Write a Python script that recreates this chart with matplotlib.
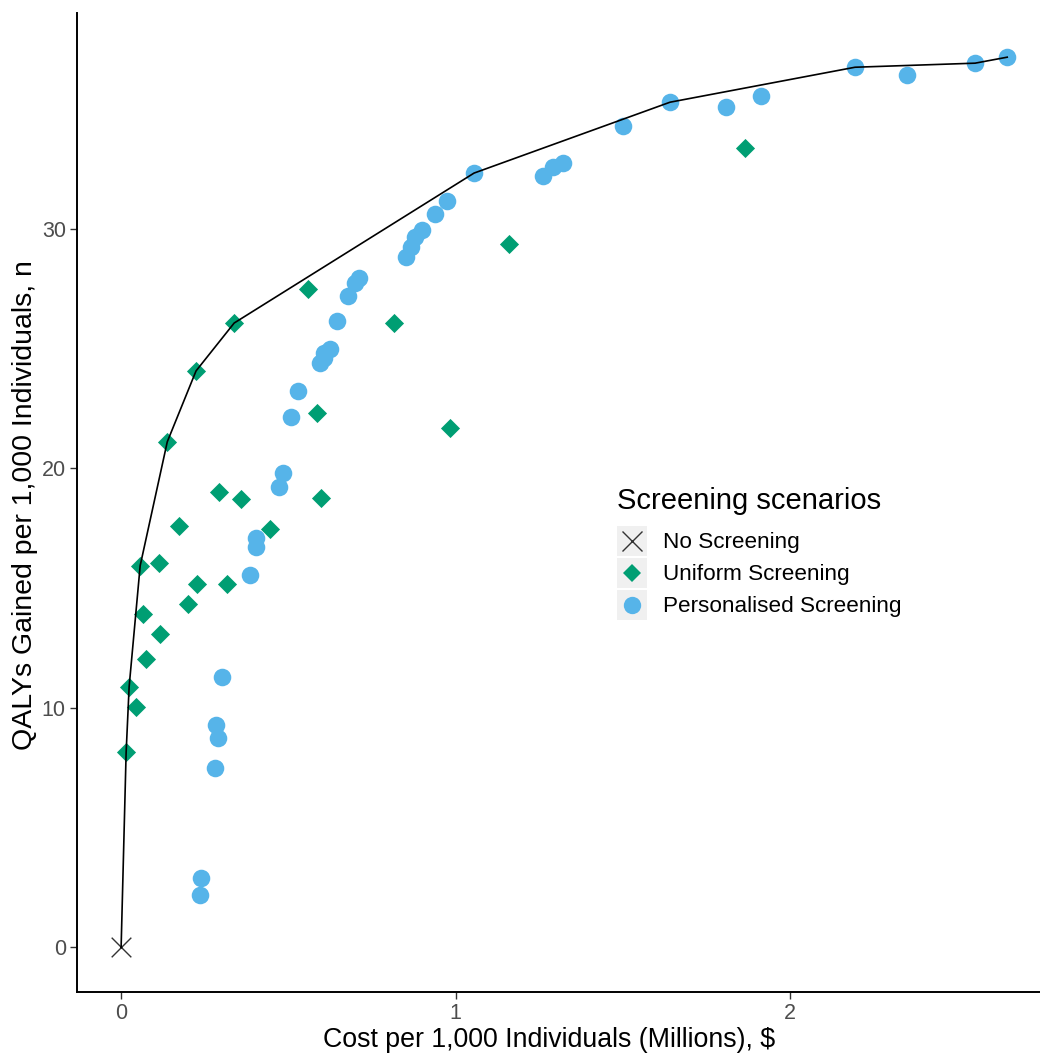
import matplotlib
matplotlib.use("Agg")
import matplotlib.pyplot as plt
from matplotlib.lines import Line2D
from matplotlib.patches import Rectangle
from matplotlib.legend_handler import HandlerBase

plt.rcParams['font.family'] = ['Liberation Sans', 'DejaVu Sans']

# ---- data (cost in millions $, QALYs gained per 1,000) ----
none_cost = [0.0]
none_qaly = [0.0]

uniform_cost = [0.015, 0.024, 0.045, 0.075, 0.066, 0.117, 0.057, 0.114, 0.200,
                0.227, 0.317, 0.173, 0.293, 0.359, 0.445, 0.138, 0.224, 0.338,
                0.559, 0.586, 0.598, 0.816, 0.984, 1.160, 1.866]
uniform_qaly = [8.14, 10.89, 10.05, 12.06, 13.93, 13.10, 15.94, 16.06, 14.35,
                15.19, 15.19, 17.61, 19.02, 18.73, 17.48, 21.11, 24.07, 26.07,
                27.49, 22.32, 18.77, 26.07, 21.69, 29.37, 33.38]

personal_cost = [0.236, 0.239, 0.281, 0.290, 0.284, 0.302, 0.386, 0.404, 0.404,
                 0.472, 0.484, 0.508, 0.529, 0.595, 0.607, 0.607, 0.625, 0.646,
                 0.679, 0.700, 0.712, 0.852, 0.867, 0.879, 0.900, 0.939, 0.975,
                 1.055, 1.262, 1.291, 1.321, 1.501, 1.641, 1.809, 1.913, 2.194,
                 2.350, 2.553, 2.649]
personal_qaly = [2.17, 2.88, 7.47, 8.76, 9.30, 11.31, 15.56, 16.73, 17.10,
                 19.23, 19.82, 22.15, 23.24, 24.41, 24.61, 24.82, 24.99, 26.16,
                 27.20, 27.74, 27.95, 28.83, 29.24, 29.66, 29.95, 30.62, 31.16,
                 32.33, 32.21, 32.58, 32.75, 34.29, 35.29, 35.09, 35.54, 36.75,
                 36.42, 36.92, 37.17]

frontier_cost = [0.0, 0.015, 0.024, 0.057, 0.138, 0.224, 0.338, 1.055, 1.641,
                 2.194, 2.553, 2.649]
frontier_qaly = [0.0, 8.14, 10.89, 15.94, 21.11, 24.07, 26.07, 32.33, 35.29,
                 36.75, 36.92, 37.17]

labels = ["No Screening", "Uniform Screening", "Personalised Screening"]
x_ticks = [0, 1, 2]
y_ticks = [0, 10, 20, 30]

GREEN = "#009E73"
BLUE = "#56B4E9"
XCOL = "#333333"

fig = plt.figure(figsize=(10.4, 10.53), dpi=100)
ax = fig.add_axes([0.074, 0.058, 0.926, 0.930])

ax.scatter(uniform_cost, uniform_qaly, marker='D', s=95, color=GREEN,
           linewidths=0, zorder=2)
ax.scatter(personal_cost, personal_qaly, marker='o', s=160, color=BLUE,
           linewidths=0, zorder=2)
ax.scatter(none_cost, none_qaly, marker='x', s=200, color=XCOL,
           linewidths=1.0, zorder=3)
ax.plot(frontier_cost, frontier_qaly, color='black', lw=1.2, zorder=4)

ax.set_xlim(-0.132, 2.747)
ax.set_ylim(-1.86, 39.03)
ax.set_xticks(x_ticks)
ax.set_yticks(y_ticks)
ax.tick_params(axis='both', direction='out', length=5, width=1.0,
               color='#333333', labelcolor='#4d4d4d', labelsize=15.5, pad=3)
for s in ['top', 'right']:
    ax.spines[s].set_visible(False)
for s in ['left', 'bottom']:
    ax.spines[s].set_linewidth(1.4)
    ax.spines[s].set_color('black')

ax.set_xlabel("Cost per 1,000 Individuals (Millions), $", fontsize=19.25)
ax.set_ylabel("QALYs Gained per 1,000 Individuals, n", fontsize=20.5)
ax.xaxis.set_label_coords(0.49, -0.0355)
ax.yaxis.set_label_coords(-0.0405, 0.497)


class KeyHandler(HandlerBase):
    def __init__(self, marker, color, size):
        super().__init__()
        self.marker = marker
        self.color = color
        self.size = size

    def create_artists(self, legend, orig_handle, xdescent, ydescent, width,
                       height, fontsize, trans):
        rect = Rectangle((-xdescent, -ydescent), width, height,
                         facecolor='#f0f0f0', edgecolor='none',
                         transform=trans)
        cx = -xdescent + width / 2
        cy = -ydescent + height / 2
        mew = 1.0 if self.marker == 'x' else 0
        m = Line2D([cx], [cy], marker=self.marker, markersize=self.size,
                   color=self.color, markeredgewidth=mew,
                   linestyle='none', transform=trans)
        return [rect, m]


h1 = Line2D([], [], label=labels[0])
h2 = Line2D([], [], label=labels[1])
h3 = Line2D([], [], label=labels[2])
leg = ax.legend(handles=[h1, h2, h3], labels=labels,
                handler_map={h1: KeyHandler('x', XCOL, 14),
                             h2: KeyHandler('D', GREEN, 9),
                             h3: KeyHandler('o', BLUE, 12.5)},
                title="Screening scenarios", title_fontsize=21,
                fontsize=16.2, frameon=False, loc='upper left',
                bbox_to_anchor=(0.561, 0.516), borderpad=0,
                handlelength=1.333, handleheight=1.674, handletextpad=0.7,
                labelspacing=0.087, borderaxespad=0)
leg._legend_box.align = "left"
leg._legend_box.sep = 8

fig.savefig("out.png", dpi=100)
